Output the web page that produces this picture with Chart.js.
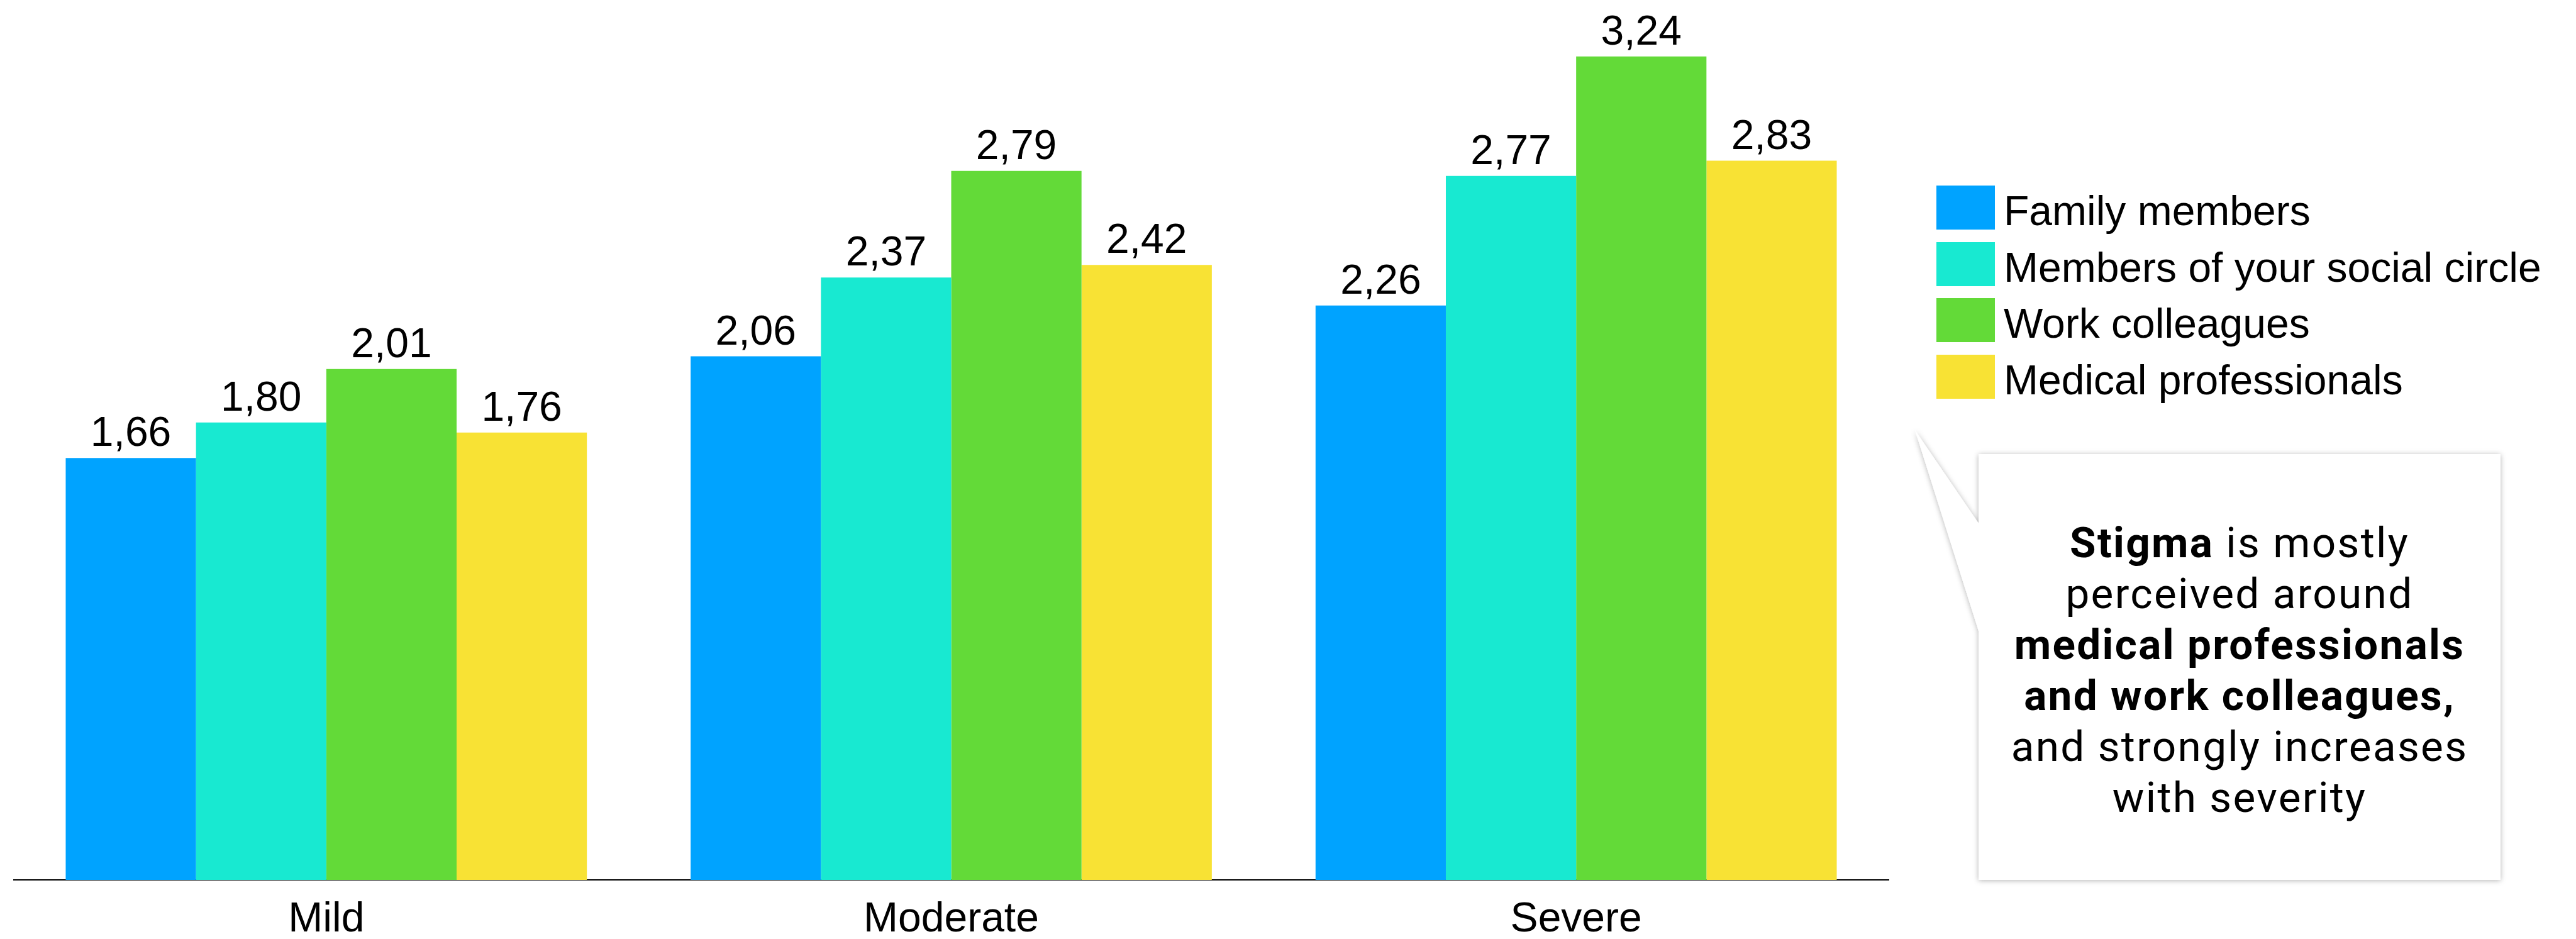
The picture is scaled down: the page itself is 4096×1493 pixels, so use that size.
<!DOCTYPE html>
<html>
<head>
<meta charset="utf-8">
<script src="https://cdn.jsdelivr.net/npm/chart.js@4/dist/chart.umd.min.js"></script>
<style>
  html, body { margin: 0; padding: 0; background: #fff; overflow: hidden; }
  body { width: 4096px; height: 1493px; position: relative; }
  #wrap { position: absolute; left: 0; top: 0; width: 4096px; height: 1527px; }
  #legend { position: absolute; left: 3079px; top: 295px; }
  #legend .row { position: absolute; left: 0; height: 70px; white-space: nowrap; }
  #legend .swatch { position: absolute; left: 0; top: 0; width: 93px; height: 70px; }
  #legend .label { position: absolute; left: 107px; top: 5px; font: 66px Arial, "Liberation Sans", sans-serif; line-height: 70px; color: #000; }
  #callout { position: absolute; left: 0; top: 0; }
  #note { position: absolute; left: 3146px; top: 822px; width: 830px; text-align: center;
          font-family: Roboto, "Noto Sans", sans-serif; font-size: 67.5px; line-height: 81px;
          letter-spacing: 2.3px; color: #000; white-space: nowrap; }
  #note b { font-weight: 700; }
</style>
</head>
<body>
<div id="wrap"><canvas id="chart"></canvas></div>
<div id="legend"></div>
<svg id="callout" width="4096" height="1493">
  <defs>
    <filter id="shade" x="-10%" y="-10%" width="120%" height="120%">
      <feDropShadow dx="0" dy="1" stdDeviation="4" flood-color="#000" flood-opacity="0.3"/>
    </filter>
  </defs>
  <path d="M3045 684 L3146 832 L3146 722 L3976 722 L3976 1399 L3146 1399 L3146 1003 Z"
        fill="#fff" filter="url(#shade)"/>
</svg>
<div id="note"><b>Stigma</b> is mostly<br>perceived around<br><b>medical professionals</b><br><b>and work colleagues,</b><br>and strongly increases<br>with severity</div>

<script>
// Severity levels on the x axis
const categories = ['Mild', 'Moderate', 'Severe'];

// Perceived stigma score per group of people
const seriesNames = ['Family members', 'Members of your social circle', 'Work colleagues', 'Medical professionals'];
const familyMembers = [1.66, 2.06, 2.26];
const socialCircle = [1.80, 2.37, 2.77];
const workColleagues = [2.01, 2.79, 3.24];
const medicalProfessionals = [1.76, 2.42, 2.83];
const seriesColors = ['#00A3FF', '#18E9D1', '#63DA38', '#F8E234'];

const seriesValues = [familyMembers, socialCircle, workColleagues, medicalProfessionals];

const fmt = v => v.toFixed(2).replace('.', ',');
const FONT = 'Arial, "Liberation Sans", sans-serif';

// Writes each bar's value just above it
const valueLabels = {
  id: 'valueLabels',
  afterDatasetsDraw(chart) {
    const ctx = chart.ctx;
    ctx.save();
    ctx.font = '66px ' + FONT;
    ctx.fillStyle = '#000';
    ctx.textAlign = 'center';
    ctx.textBaseline = 'alphabetic';
    chart.data.datasets.forEach((ds, i) => {
      chart.getDatasetMeta(i).data.forEach((bar, j) => {
        ctx.fillText(fmt(ds.data[j]), bar.x, bar.y - 19);
      });
    });
    ctx.restore();
  }
};

new Chart(document.getElementById('chart'), {
  type: 'bar',
  data: {
    labels: categories,
    datasets: seriesNames.map((name, i) => ({
      label: name,
      data: seriesValues[i],
      backgroundColor: seriesColors[i],
      borderWidth: 0,
      categoryPercentage: 0.834,
      barPercentage: 1.0
    }))
  },
  options: {
    responsive: true,
    maintainAspectRatio: false,
    devicePixelRatio: 1,
    animation: false,
    layout: { padding: { left: 22, right: 1093, top: 5, bottom: 0 } },
    plugins: {
      legend: { display: false },
      tooltip: { enabled: false }
    },
    scales: {
      x: {
        grid: { display: false, drawTicks: false },
        border: { display: true, color: '#000', width: 2 },
        ticks: {
          color: '#000',
          padding: 33,
          font: { family: FONT, size: 66, lineHeight: 0.94 }
        }
      },
      y: {
        display: false,
        min: 0,
        max: 3.45
      }
    }
  },
  plugins: [valueLabels]
});

// Legend built from the same series names and colours
const legend = document.getElementById('legend');
seriesNames.forEach((name, i) => {
  const row = document.createElement('div');
  row.className = 'row';
  row.style.top = (i * 89.7) + 'px';
  const sw = document.createElement('span');
  sw.className = 'swatch';
  sw.style.background = seriesColors[i];
  const lb = document.createElement('span');
  lb.className = 'label';
  lb.textContent = name;
  row.appendChild(sw);
  row.appendChild(lb);
  legend.appendChild(row);
});
</script>
</body>
</html>
